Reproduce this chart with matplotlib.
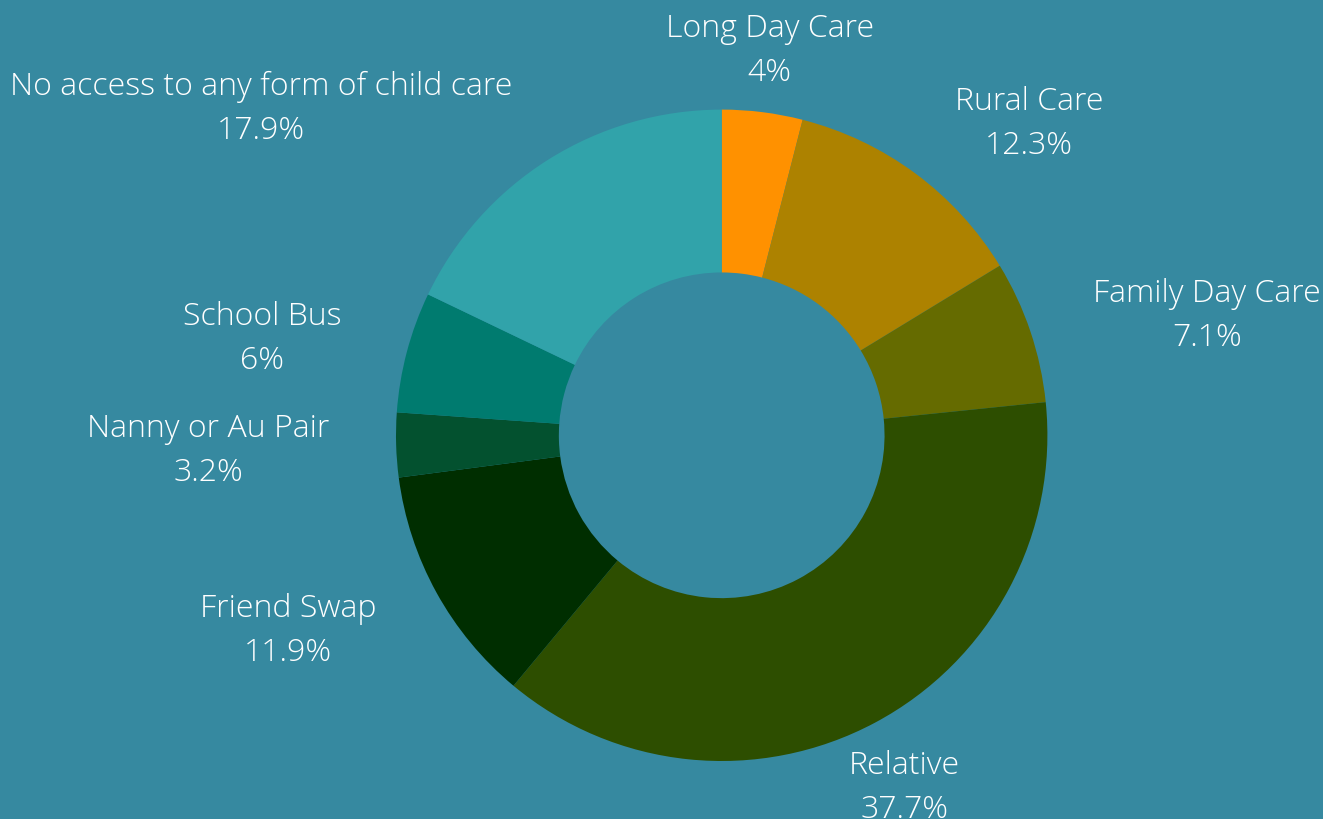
import matplotlib.pyplot as plt

labels = ["Long Day Care", "Rural Care", "Family Day Care", "Relative",
          "Friend Swap", "Nanny or Au Pair", "School Bus",
          "No access to any form of child care"]
values = [4, 12.3, 7.1, 37.7, 11.9, 3.2, 6, 17.9]
pct_text = ["4%", "12.3%", "7.1%", "37.7%", "11.9%", "3.2%", "6%", "17.9%"]

colors = ["#FF9100", "#AD8200", "#656B00", "#2D4E00",
          "#002E00", "#03512F", "#007B6F", "#31A3AA"]
bg = "#3689A0"

# where each label sits (baseline of the first line), in units of the outer radius
label_xy = [(0.147, 1.226), (0.943, 1.002), (1.490, 0.412), (0.561, -1.037),
            (-1.332, -0.555), (-1.577, -0.002), (-1.411, 0.342), (-1.415, 1.049)]

W, H = 1323, 820
cx, cy, R = 721.7, 436.3, 325.7   # pie centre and radius in pixels

fig = plt.figure(figsize=(W / 100, H / 100), dpi=100, facecolor=bg)
ax = fig.add_axes([0, 0, 1, 1])
ax.set_facecolor(bg)

ax.pie(values, colors=colors, startangle=90, counterclock=False,
       radius=1, wedgeprops=dict(width=0.5, linewidth=0))

ax.set_xlim(-cx / R, (W - cx) / R)
ax.set_ylim((cy - H) / R, cy / R)
ax.set_aspect("auto")
ax.axis("off")

line_gap = 44 / R
for (x, y), name, p in zip(label_xy, labels, pct_text):
    ax.text(x, y, name, ha="center", va="baseline", color="white",
            fontsize=23, family="Open Sans", fontweight="light")
    ax.text(x, y - line_gap, p, ha="center", va="baseline", color="white",
            fontsize=23, family="Open Sans", fontweight="light")

fig.savefig("out.png", dpi=100, facecolor=bg)
